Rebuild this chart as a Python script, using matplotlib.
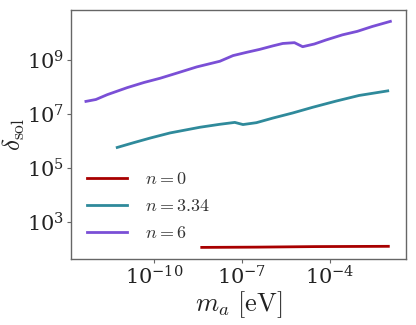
import numpy as np
import matplotlib
matplotlib.use("Agg")
import matplotlib.pyplot as plt

plt.rcParams['mathtext.fontset'] = 'cm'
plt.rcParams['font.family'] = ['DejaVu Serif']

# log10(m_a / eV) and log10(delta_sol)
n0_logm = [-8.38, -6.5, -4.5, -2.0]
n0_logd = [2.04, 2.05, 2.07, 2.08]

n334_logm = [-11.27, -10.70, -10.14, -9.46, -8.44, -7.76, -7.25, -6.97, -6.51,
             -5.95, -5.27, -4.59, -3.79, -3.00, -2.02]
n334_logd = [5.75, 5.93, 6.10, 6.29, 6.50, 6.61, 6.68, 6.60, 6.67,
             6.84, 7.03, 7.24, 7.47, 7.68, 7.85]

n6_logm = [-12.34, -12.00, -11.61, -10.93, -10.36, -9.80, -9.23, -8.55, -7.76,
           -7.31, -6.85, -6.40, -5.95, -5.61, -5.21, -4.93, -4.53, -4.13,
           -3.57, -3.06, -2.55, -1.93]
n6_logd = [7.46, 7.53, 7.71, 7.97, 8.16, 8.32, 8.51, 8.74, 8.95,
           9.16, 9.28, 9.39, 9.52, 9.61, 9.64, 9.49, 9.59, 9.74,
           9.93, 10.06, 10.24, 10.43]

labels = [r'$n = 0$', r'$n = 3.34$', r'$n = 6$']
colors = ['#a80000', '#2f8a9b', '#7a4fd6']

fig = plt.figure(figsize=(4.16, 3.25), dpi=100)
ax = fig.add_axes([0.170, 0.204, 0.805, 0.765])

series = [(n0_logm, n0_logd), (n334_logm, n334_logd), (n6_logm, n6_logd)]
for (lm, ld), lab, c in zip(series, labels, colors):
    ax.plot(10**np.array(lm), 10**np.array(ld), color=c, lw=2.0, label=lab)

ax.set_xscale('log')
ax.set_yscale('log')
ax.set_xticks([1e-10, 1e-7, 1e-4])
ax.set_yticks([1e3, 1e5, 1e7, 1e9])
ax.minorticks_off()

for s in ax.spines.values():
    s.set_color('#666666')
    s.set_linewidth(1.0)
ax.tick_params(axis='both', which='major', direction='out', length=3, width=0.8,
               color='#666666', labelsize=15, pad=2, labelcolor='#222222')

ax.set_xlabel(r'$m_a\ [\mathrm{eV}]$', fontsize=19, labelpad=0, color='#222222')
ax.set_ylabel(r'$\delta_{\rm sol}$', fontsize=18, labelpad=0, color='#222222')

leg = ax.legend(loc='lower left', frameon=False, fontsize=13,
                handlelength=2.2, handletextpad=1.0, labelspacing=0.5,
                bbox_to_anchor=(0.0, 0.0))
for t in leg.get_texts():
    t.set_color('#333333')

fig.savefig('out.png', dpi=100)
